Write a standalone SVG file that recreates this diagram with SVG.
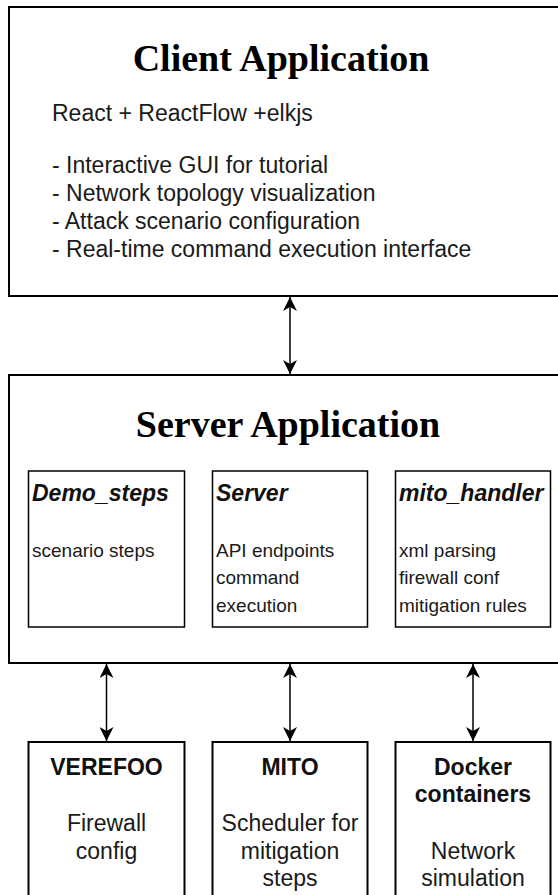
<svg xmlns="http://www.w3.org/2000/svg" width="558" height="895" viewBox="0 0 558 895">
<style>
.box{fill:#ffffff;stroke:#000000;stroke-width:2}
.ibox{fill:#ffffff;stroke:#000000;stroke-width:1.5}
.title{font-family:"Liberation Serif","Times New Roman",serif;font-weight:bold;font-size:38px;fill:#000;text-anchor:middle}
.body{font-family:"Liberation Sans",Arial,sans-serif;font-size:23px;fill:#1a1a1a}
.ititle{font-family:"Liberation Sans",Arial,sans-serif;font-size:23px;font-weight:bold;font-style:italic;fill:#111}
.ibody{font-family:"Liberation Sans",Arial,sans-serif;font-size:19px;fill:#1a1a1a}
.btitle{font-family:"Liberation Sans",Arial,sans-serif;font-size:23px;font-weight:bold;fill:#111;text-anchor:middle}
.bbody{font-family:"Liberation Sans",Arial,sans-serif;font-size:23px;fill:#1a1a1a;text-anchor:middle}
.conn{stroke:#000;stroke-width:1.5;fill:none;marker-start:url(#arr);marker-end:url(#arr)}
</style>
<defs>
<marker id="arr" markerUnits="userSpaceOnUse" markerWidth="14" markerHeight="14" refX="14" refY="7" orient="auto-start-reverse">
<path d="M0,0 L14,7 L0,14 L4,7 z" fill="#000"/>
</marker>
</defs>
<rect width="558" height="895" fill="#ffffff"/>
<g id="client">
<rect class="box" x="9" y="7" width="553" height="289"/>
<text class="title" x="281" y="71">Client Application</text>
<text class="body" x="52" y="121">React + ReactFlow +elkjs</text>
<text class="body" x="52" y="173">- Interactive GUI for tutorial</text>
<text class="body" x="52" y="201">- Network topology visualization</text>
<text class="body" x="52" y="229">- Attack scenario configuration</text>
<text class="body" x="52" y="257">- Real-time command execution interface</text>
</g>
<g id="server-app">
<rect class="box" x="9" y="375" width="553" height="288"/>
<text class="title" x="288" y="437">Server Application</text>
</g>
<g id="demo-steps">
<rect class="ibox" x="28.5" y="471" width="156" height="156"/>
<text class="ititle" x="32" y="501">Demo_steps</text>
<text class="ibody" x="32" y="557">scenario steps</text>
</g>
<g id="server">
<rect class="ibox" x="212.5" y="471" width="155" height="156"/>
<text class="ititle" x="216" y="501">Server</text>
<text class="ibody" x="216" y="557">API endpoints</text>
<text class="ibody" x="216" y="584">command</text>
<text class="ibody" x="216" y="612">execution</text>
</g>
<g id="mito-handler">
<rect class="ibox" x="395.5" y="471" width="155" height="156"/>
<text class="ititle" x="399" y="501">mito_handler</text>
<text class="ibody" x="399" y="557">xml parsing</text>
<text class="ibody" x="399" y="584">firewall conf</text>
<text class="ibody" x="399" y="612">mitigation rules</text>
</g>
<g id="verefoo">
<rect class="box" x="28.5" y="742" width="156" height="160"/>
<text class="btitle" x="106.5" y="775">VEREFOO</text>
<text class="bbody" x="106.5" y="831">Firewall</text>
<text class="bbody" x="106.5" y="859">config</text>
</g>
<g id="mito">
<rect class="box" x="212.5" y="742" width="155" height="160"/>
<text class="btitle" x="290" y="775">MITO</text>
<text class="bbody" x="290" y="831">Scheduler for</text>
<text class="bbody" x="290" y="859">mitigation</text>
<text class="bbody" x="290" y="886">steps</text>
</g>
<g id="docker">
<rect class="box" x="395.5" y="742" width="155" height="160"/>
<text class="btitle" x="473" y="775">Docker</text>
<text class="btitle" x="473" y="802">containers</text>
<text class="bbody" x="473" y="859">Network</text>
<text class="bbody" x="473" y="886">simulation</text>
</g>
<g id="connectors">
<line class="conn" x1="290" y1="297" x2="290" y2="374"/>
<line class="conn" x1="106.5" y1="664" x2="106.5" y2="741"/>
<line class="conn" x1="290" y1="664" x2="290" y2="741"/>
<line class="conn" x1="473" y1="664" x2="473" y2="741"/>
</g>
</svg>
